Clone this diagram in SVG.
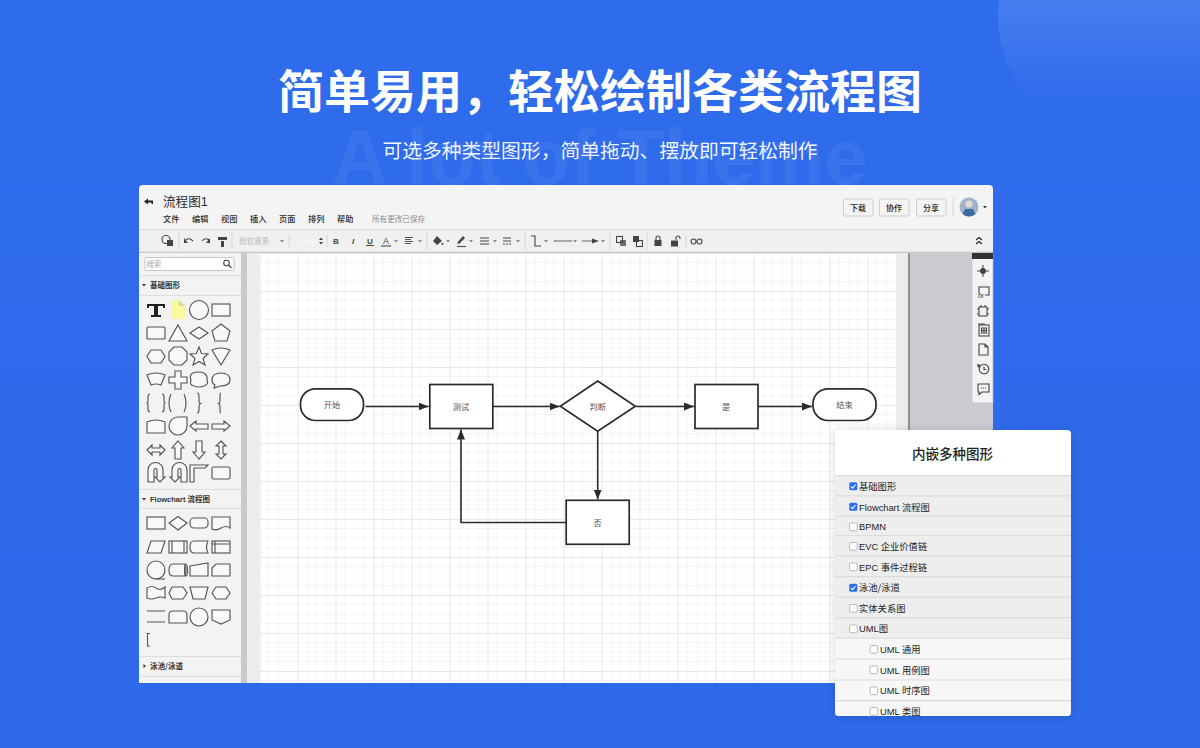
<svg xmlns="http://www.w3.org/2000/svg" xmlns:xlink="http://www.w3.org/1999/xlink" width="1200" height="748" viewBox="0 0 1200 748">
<style>
text{font-family:"Noto Sans CJK SC","Liberation Sans",sans-serif}
.lat{font-family:"Liberation Sans","Noto Sans CJK SC",sans-serif}
.menu{font-size:8.200px;fill:#2c2c2c;font-weight:500}
.btn{fill:#f4f4f4;stroke:#c4c4c4;stroke-width:.8}
.btnt{font-size:8px;fill:#222;text-anchor:middle;font-weight:500}
.sep{stroke:#d6d6d6;stroke-width:1}
.ic{fill:none;stroke:#444;stroke-width:1.1}
.icf{fill:#444;stroke:none}
.car{fill:#888}
.sh{fill:#f8f8f8;stroke:#555;stroke-width:1.150}
.shn{fill:none;stroke:#555;stroke-width:1.150}
.nd{fill:#fff;stroke:#2b2b2b;stroke-width:1.700}
.ndt{font-size:8.200px;fill:#555;text-anchor:middle}
.cn{fill:none;stroke:#2b2b2b;stroke-width:1.600}
.row{fill:#eeeeee}
.sub{fill:#f7f7f7}
.rl{stroke:#dcdcdc;stroke-width:1.200}
.rt{font-size:9.300px;fill:#222}
.cb{fill:#fff;stroke:#a8a8a8;stroke-width:.8}
.cbon{fill:#2b6cf0}
.tick{fill:none;stroke:#fff;stroke-width:1.100}
.sec{font-size:7.500px;fill:#333;font-weight:700}
</style>
<defs>
<linearGradient id="bg" x1="0" y1="0" x2="0" y2="1"><stop offset="0" stop-color="#2f6cec"/><stop offset="1" stop-color="#2e69ea"/></linearGradient>
<linearGradient id="orb" x1="0" y1="0" x2="0" y2="1"><stop offset="0" stop-color="#5f8ff1"/><stop offset=".85" stop-color="#2f6cec"/></linearGradient>
<pattern id="grid" x="259.500" y="253" width="38" height="38" patternUnits="userSpaceOnUse">
<rect width="38" height="38" fill="#fff"/>
<path d="M9.500 0V38M19 0V38M28.500 0V38M0 9.500H38M0 19H38M0 28.500H38" stroke="#f1f1f1" stroke-width=".8"/>
<path d="M.5 0V38M0 .5H38" stroke="#e8e8e8" stroke-width="1"/>
</pattern>
<pattern id="tex" width="4" height="4" patternUnits="userSpaceOnUse"><rect width="4" height="4" fill="#c9cbd0"/><path d="M0 1H4M2 0V4" stroke="#cdcfd4" stroke-width=".6"/></pattern>
<clipPath id="win"><rect x="139" y="185" width="854" height="498" rx="4"/></clipPath>
<clipPath id="dlg"><rect x="835" y="430" width="236" height="286" rx="4"/></clipPath>
<clipPath id="ava"><circle cx="969" cy="207" r="9.500"/></clipPath>
<marker id="arr" markerUnits="userSpaceOnUse" markerWidth="11" markerHeight="9" refX="10" refY="4" orient="auto"><path d="M0 0L10 4L0 8Z" fill="#2b2b2b"/></marker>
<filter id="sd" x="-15%" y="-15%" width="130%" height="130%"><feDropShadow dx="0" dy="1" stdDeviation="5" flood-color="#000" flood-opacity=".16"/></filter>
<path id="caret" d="M-2 -1H2L0 1.500Z"/>
</defs>

<rect width="1200" height="748" fill="url(#bg)"/>
<circle cx="1118" cy="17" r="120" fill="url(#orb)"/>
<text class="lat" x="332" y="184" font-size="77.500" font-weight="700" fill="#fff" fill-opacity=".055">A lot of Theme</text>
<text x="600" y="107.500" font-size="46" font-weight="700" fill="#fff" text-anchor="middle">简单易用，轻松绘制各类流程图</text>
<text x="600" y="158" font-size="19.800" fill="#fff" fill-opacity=".95" text-anchor="middle">可选多种类型图形，简单拖动、摆放即可轻松制作</text>

<g id="window" clip-path="url(#win)">
<rect x="139" y="185" width="854" height="498" fill="#f5f4f5"/>
<rect x="139" y="230" width="854" height="22" fill="#f0f0f0"/>
<path d="M139 229.500H993" stroke="#dadada"/>
<path d="M139 252.500H993" stroke="#c6c6c6" stroke-width="1.400"/>
<rect x="247" y="253" width="662" height="430" fill="#ececec"/>
<rect x="259.500" y="253" width="636.500" height="430" fill="url(#grid)"/>
<rect x="241" y="253" width="6" height="430" fill="#c6c8ce"/>
<rect x="909" y="253" width="84" height="430" fill="url(#tex)"/>
<rect x="908" y="253" width="2" height="430" fill="#8f9094"/>
</g>

<g id="header">
<path d="M144 201.500L148 198.500V200.500H153V204H151.500V202.500H148V204.500Z" fill="#222"/>
<text x="163" y="205.500" font-size="12.600" fill="#2c2c2c">流程图<tspan class="lat">1</tspan></text>
<text class="menu" x="163" y="221.500">文件</text>
<text class="menu" x="192" y="221.500">编辑</text>
<text class="menu" x="221" y="221.500">视图</text>
<text class="menu" x="250" y="221.500">插入</text>
<text class="menu" x="279" y="221.500">页面</text>
<text class="menu" x="308" y="221.500">排列</text>
<text class="menu" x="337" y="221.500">帮助</text>
<text x="372" y="221.500" font-size="7.600" fill="#8a8a8a">所有更改已保存</text>
<rect class="btn" x="843.500" y="199" width="29.500" height="17" rx="1.500"/><text class="btnt" x="858" y="210.500">下载</text>
<rect class="btn" x="879.500" y="199" width="29.500" height="17" rx="1.500"/><text class="btnt" x="894" y="210.500">协作</text>
<rect class="btn" x="916.500" y="199" width="29.500" height="17" rx="1.500"/><text class="btnt" x="931" y="210.500">分享</text>
<path class="sep" d="M953 198V217"/>
<g clip-path="url(#ava)"><rect x="959" y="197" width="20" height="20" fill="#9db4cc"/><circle cx="969" cy="204" r="3.500" fill="#e8dcd2"/><path d="M961 217L965 209H973L977 217Z" fill="#3d6a9c"/></g>
<use xlink:href="#caret" href="#caret" x="985" y="207" fill="#333"/>
</g>

<g id="toolbar">
<circle class="ic" cx="166" cy="239.500" r="4"/><rect class="icf" x="167" y="240" width="6" height="6"/>
<path class="sep" d="M179 232V250M232 232V250M289 235V247M327 235V247M427 232V250M525 232V250M610 232V250M647 232V250M686 235V247"/>
<path class="ic" stroke-width="1.600" d="M186 240Q189 237 193 241"/><path class="icf" d="M184 238L188 243L184 243Z"/>
<path class="ic" d="M202 241Q205 237 209 240"/><path class="icf" d="M210 238L210 243L206 243Z"/>
<path class="icf" d="M218 237H227V240H218ZM221 241H224V247H221Z"/>
<text x="239" y="244" font-size="7.500" fill="#bdbdbd">微软雅黑</text>
<use xlink:href="#caret" href="#caret" x="282" y="241" class="car"/>
<text class="lat" x="298" y="244" font-size="8" fill="#f8f8f8">13px</text>
<path class="icf" d="M319 240L321 237.500L323 240ZM319 242L321 244.500L323 242Z"/>
<text class="lat" x="336" y="244" font-size="8" font-weight="700" fill="#444" text-anchor="middle">B</text>
<text class="lat" x="353" y="244" font-size="8" font-weight="700" font-style="italic" fill="#444" text-anchor="middle">I</text>
<text class="lat" x="370" y="243.500" font-size="8" font-weight="700" fill="#444" text-anchor="middle">U</text><path d="M366 245.500H374" stroke="#444"/>
<text class="lat" x="386" y="243.500" font-size="9" fill="#444" text-anchor="middle">A</text><path d="M381 246H391" stroke="#555" stroke-width="1.200"/>
<use xlink:href="#caret" href="#caret" x="396" y="241" class="car"/>
<path d="M405 237.500H413M405 239.500H411M405 241.500H413M405 243.500H411" stroke="#555" stroke-width="1"/>
<use xlink:href="#caret" href="#caret" x="420" y="241" class="car"/>
<path class="icf" d="M437 236L442 241L437 245L433 241Z"/><circle class="icf" cx="442.500" cy="244" r="1"/>
<use xlink:href="#caret" href="#caret" x="448" y="241" class="car"/>
<path class="icf" d="M457 243L463 236L465 238L459 244Z"/><path d="M457 246.500H466" stroke="#555" stroke-width="1.200"/>
<use xlink:href="#caret" href="#caret" x="471" y="241" class="car"/>
<path d="M480 238H489M480 241H489M480 244H489" stroke="#444" stroke-width="1.200"/>
<use xlink:href="#caret" href="#caret" x="495" y="241" class="car"/>
<path d="M503 238H511M503 241H511" stroke="#444" stroke-width="1.100"/><path d="M503 244H511" stroke="#444" stroke-width="1.100" stroke-dasharray="2 1"/>
<use xlink:href="#caret" href="#caret" x="518" y="241" class="car"/>
<path class="ic" d="M531 236H535V246H541"/>
<use xlink:href="#caret" href="#caret" x="546" y="241" class="car"/>
<path d="M554 241H572" stroke="#666" stroke-width="1"/><circle cx="555" cy="241" r=".8" fill="#e55"/>
<use xlink:href="#caret" href="#caret" x="575" y="241" class="car"/>
<path d="M582 241H594" stroke="#666" stroke-width="1"/><path class="icf" d="M592 238.500L599 241L592 243.500Z"/>
<use xlink:href="#caret" href="#caret" x="603" y="241" class="car"/>
<rect class="ic" x="616.500" y="236.500" width="6" height="6"/><rect class="icf" x="620" y="240" width="6" height="6" fill-opacity=".75"/>
<rect class="icf" x="633" y="236" width="6" height="6"/><rect class="ic" x="636.500" y="240.500" width="6" height="6"/>
<rect class="icf" x="654.500" y="240" width="7" height="6"/><path class="ic" d="M656 240V238A2 2 0 0 1 660 238V240"/>
<rect class="icf" x="671" y="240.500" width="7" height="6"/><path class="ic" d="M676 240V238A2 2 0 0 1 680 238V239"/>
<circle class="ic" cx="693.500" cy="241.500" r="2.500"/><circle class="ic" cx="699.500" cy="241.500" r="2.500"/>
<path d="M976 240L979 237.500L982 240M976 244L979 241.500L982 244" fill="none" stroke="#222" stroke-width="1.200"/>
</g>

<g id="sidebar">
<rect x="139" y="253" width="102" height="430" fill="#f4f3f4"/>
<rect x="145" y="257.500" width="89" height="13" rx="1" fill="#fff" stroke="#b9b9b9" stroke-width=".8"/>
<text x="146.500" y="267" font-size="7.500" fill="#aaa">搜索</text>
<circle class="ic" cx="226.500" cy="263" r="2.800"/><path class="ic" d="M228.500 265L231.500 268"/>
<path d="M139 275.500H241M139 295.500H241M139 489.500H241M139 508.500H241M139 656.500H241M139 676.500H241" stroke="#dedede"/>
<use xlink:href="#caret" href="#caret" x="144" y="285" fill="#333"/>
<text class="sec" x="150" y="288">基础图形</text>
<use xlink:href="#caret" href="#caret" x="144" y="499" fill="#333"/>
<text class="sec" x="150" y="502"><tspan class="lat">Flowchart </tspan>流程图</text>
<path d="M143.500 664L146 666L143.500 668Z" fill="#333"/>
<text class="sec" x="150" y="669">泳池/泳道</text>

<g id="basic-shapes">
<path d="M147 304H165V308H163V306H158V315H161V317H151V315H154V306H149V308H147Z" fill="#222"/>
<path d="M171 300H179L185 306V319H171Z" fill="#fbf79f"/><path d="M179 300L185 306H179Z" fill="#d9d7a0"/>
<circle class="sh" cx="199" cy="310" r="9.500"/>
<rect class="sh" x="212" y="304" width="18" height="12"/>
<rect class="sh" x="147" y="327" width="18" height="12" rx="1"/>
<path class="sh" d="M178 325L187 341H169Z"/>
<path class="sh" d="M199 327L208 333L199 339L190 333Z"/>
<path class="sh" d="M221 324L230 331L227 341H215L212 331Z"/>
<path class="sh" d="M151 350H161L165 356.500L161 363H151L147 356.500Z"/>
<path class="sh" d="M174 347H182L187 352V360L182 365H174L169 360V352Z"/>
<path class="sh" d="M199 347L201.500 353.500L208 354L203 358.500L205 365L199 361.500L193 365L195 358.500L190 354L196.500 353.500Z"/>
<path class="sh" d="M212 350Q221 346 230 350L221 365Z"/>
<path class="sh" d="M147 375Q156 371 165 375L161 385Q156 383 151 385Z"/>
<path class="sh" d="M175 371H181V377H187V383H181V389H175V383H169V377H175Z"/>
<path class="sh" d="M193 373Q199 371 204 373Q208 376 207 380Q209 384 204 386Q199 388 194 386Q189 385 191 380Q189 375 193 373Z"/>
<path class="sh" d="M221 373C227 373 230 376 230 380C230 384 226 386 220 386L214 388L215 385C213 384 212 382 212 380C212 376 215 373 221 373Z"/>
<path class="shn" d="M150 394Q148 394 148 397V401Q148 403 146.500 403Q148 403 148 405V409Q148 412 150 412M162 394Q164 394 164 397V401Q164 403 165.500 403Q164 403 164 405V409Q164 412 162 412M171 394Q169 398 169 403Q169 408 171 412M184 394Q186 398 186 403Q186 408 184 412M197 393Q199 393 199 396V401Q199 403 200.500 403.500Q199 404 199 406V410Q199 413 197 413M221 393Q220 393 220 396V401Q220 403 218.500 403.500Q220 404 220 406V410Q220 413 221 413"/>
<path class="sh" d="M147 422Q156 418 165 422V433H147Z"/>
<path class="sh" d="M178 417H187V426A9 9 0 1 1 178 417Z"/>
<path class="sh" d="M190 426L196 421V424H208V429H196V431Z"/>
<path class="sh" d="M230 426L224 421V424H212V429H224V431Z"/>
<path class="sh" d="M147 450L152 445V448H160V445L165 450L160 455V452H152V455Z"/>
<path class="sh" d="M178 441L184 448H181V459H175V448H172Z"/>
<path class="sh" d="M199 459L193 452H196V441H202V452H205Z"/>
<path class="sh" d="M221 441L226 446H223V454H226L221 459L216 454H219V446H216Z"/>
<path class="sh" d="M148 482V470A7 7 0 0 1 163 470V477H165L160 482L155 477H157V470A1.500 1.500 0 0 0 154 470V482Z"/>
<path class="sh" transform="translate(335 0) scale(-1 1)" d="M148 482V470A7 7 0 0 1 163 470V477H165L160 482L155 477H157V470A1.500 1.500 0 0 0 154 470V482Z"/>
<path class="sh" d="M190 482V465H208L205 468H194V482Z"/>
<rect class="sh" x="212" y="467" width="18" height="12" rx="1.500"/>
</g>

<g id="flow-shapes">
<rect class="sh" x="147" y="517" width="18" height="12"/>
<path class="sh" d="M178 516.500L187 523L178 530L169 523Z"/>
<rect class="sh" x="190" y="518" width="18" height="10" rx="4"/>
<path class="sh" d="M212 517H230V528Q226 525 221 528Q216 531 212 529Z"/>
<path class="sh" d="M151 541H165L161 553H147Z"/>
<rect class="sh" x="169" y="541" width="18" height="12"/><path class="shn" d="M172 541V553M184 541V553"/>
<path class="sh" d="M194 541H208Q205 547 208 553H194Q190 553 190 547Q190 541 194 541Z"/>
<rect class="sh" x="212" y="541" width="18" height="12"/><path class="shn" d="M215 541V553M212 544H230"/>
<circle class="sh" cx="156" cy="570" r="9"/><path class="shn" d="M156 579H165"/>
<path class="sh" d="M173 564H185Q187 570 185 576H173Q169 576 169 570Q169 564 173 564Z"/><ellipse class="shn" cx="186" cy="570" rx="1.500" ry="6"/>
<path class="sh" d="M190 566L208 563V576H190Z"/>
<path class="sh" d="M216 564H230V576H212V568Z"/>
<path class="sh" d="M147 588Q152 585 156 588Q161 591 165 587V598Q160 596 156 598Q151 600 147 598Z"/>
<path class="sh" d="M172 587H183L187 593L183 599H172L169 593Z"/>
<path class="sh" d="M190 587H208L205 599H193Z"/>
<path class="sh" d="M216 587H226L230 593L226 599H216L212 593Z"/>
<path class="shn" d="M147 611H165M147 622H165"/>
<path class="sh" d="M169 623V615Q169 611 173 611H183Q187 611 187 615V623Z"/>
<circle class="sh" cx="199" cy="617" r="9"/>
<path class="sh" d="M212 610H230V620L221 624L212 620Z"/>
<path class="shn" d="M150 633.500H147.500V646H150"/>
</g>
</g>

<g id="right-panel">
<rect x="972" y="253" width="21" height="150" fill="#f3f3f3" stroke="#bdbdbd" stroke-width=".6"/>
<rect x="972" y="253" width="21" height="6" fill="#333"/>
<circle class="icf" cx="983" cy="271" r="3"/><path class="ic" d="M977 271H989M983 265V277"/>
<path class="ic" d="M979 293V287H989V295H985"/><text class="lat" x="978" y="298" font-size="7.500" font-style="italic" fill="#333">fx</text>
<rect class="ic" x="979" y="307" width="8" height="9"/><path class="ic" d="M977 309H979M977 314H979M987 309H989M987 314H989M981 305V307M985 305V307"/>
<rect class="ic" x="979" y="325" width="10" height="11"/><path class="ic" d="M978 324H985M981.500 328H986.500V333H981.500ZM984 328V333M981.500 330.500H986.500"/>
<path class="ic" d="M979 344H985L988 347V355H979ZM985 344V347H988"/>
<circle class="ic" cx="984" cy="369" r="4.800" stroke-width="1.500"/><path class="ic" d="M984 366.500V369.500H986.500"/><path class="icf" d="M977 364L981 365L978 368Z"/>
<path class="ic" d="M978 384H989V392H982L979 394.500V392H978Z"/><path d="M981 388H986" stroke="#444" stroke-dasharray="1 1"/>
</g>

<g id="connectors">
<path class="cn" d="M365.500 406.500H428.500" marker-end="url(#arr)"/>
<path class="cn" d="M493 406.500H559.500" marker-end="url(#arr)"/>
<path class="cn" d="M636 406.500H694" marker-end="url(#arr)"/>
<path class="cn" d="M758.500 406.500H812" marker-end="url(#arr)"/>
<path class="cn" d="M597.700 431.500V499.500" marker-end="url(#arr)"/>
<path class="cn" d="M566 522.500H461V429.500" marker-end="url(#arr)"/>
</g>
<g id="node-start"><rect class="nd" x="300.500" y="388.800" width="63" height="31.700" rx="15"/><text class="ndt" x="332" y="408">开始</text></g>
<g id="node-test"><rect class="nd" x="429.800" y="384.500" width="63" height="44"/><text class="ndt" x="461" y="410">测试</text></g>
<g id="node-decision"><path class="nd" d="M597.700 381L635.300 406.300L597.700 431.300L560.300 406.300Z"/><text class="ndt" x="597.700" y="410">判断</text></g>
<g id="node-yes"><rect class="nd" x="695" y="384.500" width="63" height="44"/><text class="ndt" x="726" y="410">是</text></g>
<g id="node-end"><rect class="nd" x="813" y="388.800" width="63" height="31.700" rx="15"/><text class="ndt" x="844.500" y="408">结束</text></g>
<g id="node-no"><rect class="nd" x="566.200" y="500.300" width="63" height="44"/><text class="ndt" x="597.700" y="526">否</text></g>

<g id="dialog">
<rect x="835" y="430" width="236" height="286" rx="4" fill="#fff" filter="url(#sd)"/>
<g clip-path="url(#dlg)">
<rect x="835" y="475" width="236" height="163" class="row"/>
<rect x="835" y="638" width="236" height="78" class="sub"/>
<path class="rl" d="M835 475.700H1071M835 495.800H1071M835 516.200H1071M835 535.500H1071M835 555.800H1071M835 576.700H1071M835 597.200H1071M835 617.700H1071M835 638.200H1071M835 659H1071M835 680H1071M835 700.700H1071"/>
<rect class="cbon" x="849.300" y="482.300" width="8" height="8" rx="1.500"/><path class="tick" d="M851 486.500L852.700 488.200L855.500 484.500"/>
<rect class="cbon" x="849.300" y="502.800" width="8" height="8" rx="1.500"/><path class="tick" d="M851 507L852.700 508.700L855.500 505"/>
<rect class="cb" x="849.500" y="523" width="7.700" height="7.700" rx="1.500"/>
<rect class="cb" x="849.500" y="542.500" width="7.700" height="7.700" rx="1.500"/>
<rect class="cb" x="849.500" y="563" width="7.700" height="7.700" rx="1.500"/>
<rect class="cbon" x="849.300" y="583.800" width="8" height="8" rx="1.500"/><path class="tick" d="M851 588L852.700 589.700L855.500 586"/>
<rect class="cb" x="849.500" y="604.500" width="7.700" height="7.700" rx="1.500"/>
<rect class="cb" x="849.500" y="625" width="7.700" height="7.700" rx="1.500"/>
<rect class="cb" x="870" y="645.500" width="7.700" height="7.700" rx="1.500"/>
<rect class="cb" x="870" y="666" width="7.700" height="7.700" rx="1.500"/>
<rect class="cb" x="870" y="687" width="7.700" height="7.700" rx="1.500"/>
<rect class="cb" x="870" y="707.500" width="7.700" height="7.700" rx="1.500"/>
<text class="rt" x="859" y="489.500">基础图形</text>
<text class="rt" x="859" y="510.500"><tspan class="lat">Flowchart </tspan>流程图</text>
<text class="rt lat" x="859" y="529.500">BPMN</text>
<text class="rt" x="859" y="549.500"><tspan class="lat">EVC </tspan>企业价值链</text>
<text class="rt" x="859" y="570.500"><tspan class="lat">EPC </tspan>事件过程链</text>
<text class="rt" x="859" y="591">泳池/泳道</text>
<text class="rt" x="859" y="611.500">实体关系图</text>
<text class="rt" x="859" y="632"><tspan class="lat">UML</tspan>图</text>
<text class="rt" x="880" y="653"><tspan class="lat">UML </tspan>通用</text>
<text class="rt" x="880" y="673.500"><tspan class="lat">UML </tspan>用例图</text>
<text class="rt" x="880" y="694"><tspan class="lat">UML </tspan>时序图</text>
<text class="rt" x="880" y="714.500"><tspan class="lat">UML </tspan>类图</text>
</g>
<text x="952.500" y="459" font-size="13.500" font-weight="500" fill="#222" text-anchor="middle">内嵌多种图形</text>
</g>
</svg>
